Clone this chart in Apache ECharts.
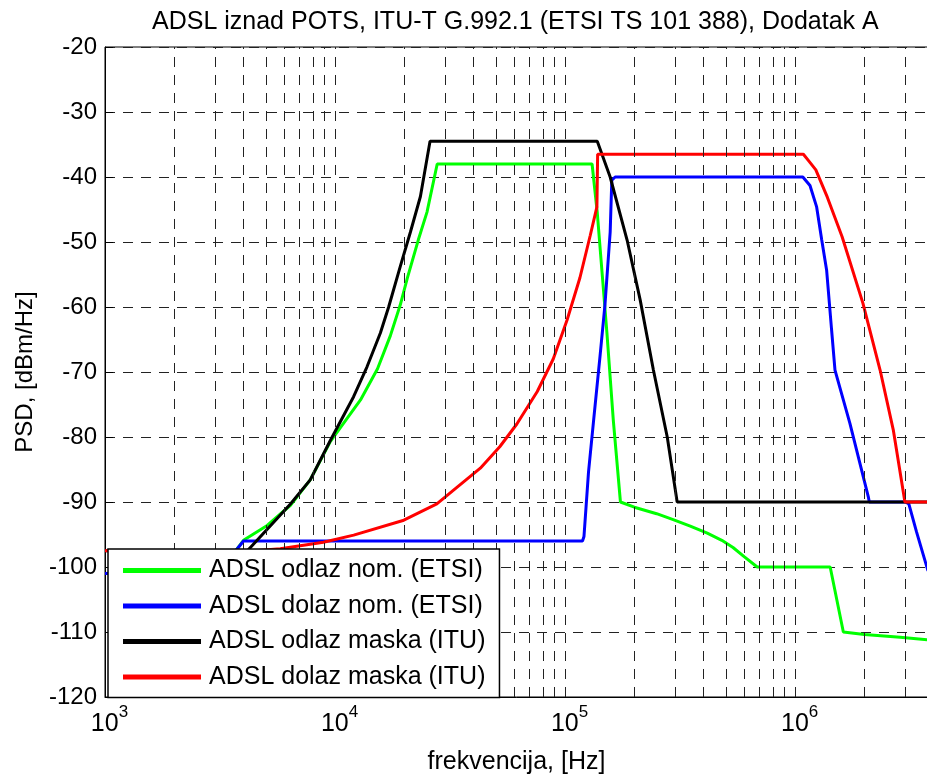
<!DOCTYPE html>
<html>
<head>
<meta charset="utf-8">
<script src="https://cdn.jsdelivr.net/npm/echarts@6/dist/echarts.min.js"></script>
<style>
html,body{margin:0;padding:0;background:#fff;}
#chart{width:927px;height:776px;}
</style>
</head>
<body>
<div id="chart"></div>
<script>
// ---- data (frequency in Hz, PSD in dBm/Hz) ----
const seriesNames = ['ADSL odlaz nom. (ETSI)', 'ADSL dolaz nom. (ETSI)', 'ADSL odlaz maska (ITU)', 'ADSL dolaz maska (ITU)'];
const seriesColors = ['#00ff00', '#0000ff', '#000000', '#ff0000'];

const greenFreq = [1000, 3400, 3700, 4000, 5070, 6400, 7800, 9500, 12900, 15300, 17400, 19200, 20600, 23000, 25100, 27800, 131000, 138000, 145000, 152000, 162000, 174000, 200000, 250000, 295000, 350000, 415000, 480000, 537000, 600000, 684000, 1420000, 1620000, 2000000, 2860000, 3780000];
const greenPsd  = [-101, -100.5, -97.5, -95.9, -93.6, -90.5, -86.6, -80.8, -74.3, -69.5, -64.4, -59.7, -55.6, -49.7, -45.4, -38, -38, -45.5, -55, -64, -77.4, -90, -90.8, -91.8, -92.7, -93.7, -94.8, -95.9, -97, -98.4, -100, -100, -110, -110.4, -110.8, -111.2];

const blueFreq = [1000, 3400, 3700, 4000, 119000, 120800, 126400, 132800, 142000, 149000, 157000, 159600, 165000, 1080000, 1160000, 1240000, 1305000, 1370000, 1440000, 1490000, 1730000, 2080000, 2100000, 3020000, 3120000, 3370000, 3780000];
const bluePsd  = [-101, -100.5, -97.5, -96, -96, -95.3, -85.4, -77.7, -67.4, -59.7, -48.5, -40.5, -40, -40, -41.3, -44.6, -49.7, -54.3, -63.5, -69.7, -77.9, -89.2, -90, -90, -90.3, -94.6, -100.6];

const blackFreq = [1000, 4000, 4160, 6400, 7800, 9550, 12040, 13770, 15740, 17100, 19200, 21250, 23500, 25875, 138000, 157000, 186000, 212000, 242000, 278000, 307000, 3780000];
const blackPsd  = [-97.5, -97.5, -97.5, -90.3, -86.6, -80.5, -73.8, -69.2, -64.0, -60.0, -53.8, -48.5, -43.0, -34.5, -34.5, -40, -49.7, -58.9, -69.7, -80, -90, -90];

const redFreq = [1000, 4000, 4500, 5780, 8900, 12050, 19900, 27700, 36200, 42800, 52000, 61700, 75700, 88800, 102000, 116000, 128600, 137500, 138500, 1086000, 1150000, 1230000, 1380000, 1600000, 1970000, 2340000, 2670000, 3000000, 3780000];
const redPsd  = [-97.5, -97.5, -97.5, -97.2, -96.2, -95.1, -92.8, -90.3, -86.9, -84.8, -81.5, -78, -73, -68, -62, -55.5, -49, -44.6, -36.5, -36.5, -37.6, -38.9, -43.1, -49.2, -59.4, -69.7, -78.9, -90, -90];

const xMin = 1000, xMax = 3780000;
const yMin = -120, yMax = -20, yStep = 10;

function zip(f, v) { return f.map((x, i) => [x, v[i]]); }
const seriesData = [zip(greenFreq, greenPsd), zip(blueFreq, bluePsd), zip(blackFreq, blackPsd), zip(redFreq, redPsd)];

// vertical (log) grid lines: 1..9 x each decade
const gridFreqs = [];
for (let d = 1000; d <= 1e6; d *= 10) {
  for (let m = 1; m <= 9; m++) {
    const f = m * d;
    if (f > xMin && f < xMax) gridFreqs.push(f);
  }
}

const FONT = 'Liberation Sans, Arial, Helvetica, sans-serif';
const dash = [10, 8];

const chart = echarts.init(document.getElementById('chart'), null, { renderer: 'canvas' });

const series = [{
  type: 'line',
  data: [],
  z: 1,
  silent: true,
  markLine: {
    silent: true,
    symbol: ['none', 'none'],
    animation: false,
    label: { show: false },
    lineStyle: { type: dash, color: '#222', width: 1 },
    data: gridFreqs.map(f => ({ xAxis: f }))
  }
}];
seriesData.forEach((d, i) => {
  series.push({
    name: seriesNames[i],
    type: 'line',
    data: d,
    z: 3,
    showSymbol: false,
    symbol: 'none',
    smooth: false,
    lineStyle: { color: seriesColors[i], width: 3 },
    itemStyle: { color: seriesColors[i] },
    animation: false
  });
});

chart.setOption({
  animation: false,
  backgroundColor: '#fff',
  textStyle: { fontFamily: FONT },
  title: {
    text: 'ADSL iznad POTS, ITU-T G.992.1 (ETSI TS 101 388), Dodatak A',
    left: 147,
    top: 5,
    textStyle: { fontSize: 25, fontWeight: 'normal', color: '#000', fontFamily: FONT }
  },
  grid: {
    left: 105, right: -1, top: 47, bottom: 79,
    containLabel: false,
    outerBoundsMode: 'none',
    show: true,
    borderColor: '#000',
    borderWidth: 1,
    backgroundColor: 'transparent'
  },
  legend: {
    data: seriesNames,
    orient: 'vertical',
    left: 108,
    top: 549,
    z: 50,
    zlevel: 1,
    icon: 'rect',
    itemWidth: 78,
    itemHeight: 5,
    itemGap: 10.5,
    padding: [9, 14, 8, 15],
    backgroundColor: '#ffffff',
    borderColor: '#000',
    borderWidth: 1.5,
    selectedMode: false,
    textStyle: { fontSize: 25, color: '#000', fontFamily: FONT, lineHeight: 24, padding: [0, 0, 0, 3] }
  },
  xAxis: {
    type: 'log',
    logBase: 10,
    min: xMin,
    max: xMax,
    name: 'frekvencija, [Hz]',
    nameLocation: 'middle',
    nameGap: 53,
    nameTextStyle: { fontSize: 25, color: '#000', fontFamily: FONT },
    axisLine: { show: true, lineStyle: { color: '#000', width: 1 } },
    axisTick: { show: true, inside: true, length: 8, lineStyle: { color: '#000' } },
    splitLine: { show: false },
    minorTick: { show: false },
    axisLabel: {
      margin: 7,
      color: '#000',
      showMaxLabel: false,
      formatter: function (v) {
        const e = Math.log10(v);
        if (Math.abs(e - Math.round(e)) < 1e-6) return '{pad|}{b|10}{sup|' + Math.round(e) + '}';
        return '';
      },
      rich: {
        pad: { width: 9, fontSize: 17, verticalAlign: 'top' },
        b: { fontSize: 25, color: '#000', fontFamily: FONT, padding: [8, 0, 0, 0], verticalAlign: 'bottom' },
        sup: { fontSize: 17, color: '#000', fontFamily: FONT, verticalAlign: 'top' }
      }
    }
  },
  yAxis: {
    type: 'value',
    min: yMin,
    max: yMax,
    interval: yStep,
    name: 'PSD, [dBm/Hz]',
    nameLocation: 'middle',
    nameGap: 68,
    nameTextStyle: { fontSize: 24, color: '#000', fontFamily: FONT },
    axisLine: { show: true, lineStyle: { color: '#000', width: 1 } },
    axisTick: { show: true, inside: true, length: 8, lineStyle: { color: '#000' } },
    axisLabel: { fontSize: 24, color: '#000', margin: 8, padding: [0, 0, 5, 0], fontFamily: FONT },
    splitLine: { show: true, lineStyle: { type: dash, color: '#222', width: 1 } }
  },
  series: series
});
</script>
</body>
</html>
